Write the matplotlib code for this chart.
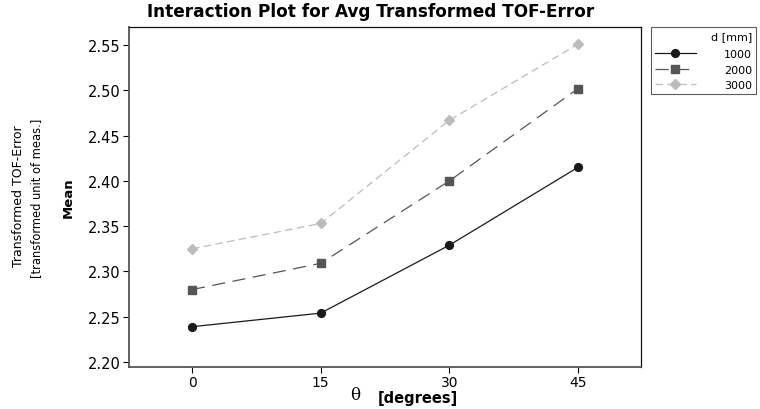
import matplotlib.pyplot as plt

plt.rcParams['font.family'] = ['DejaVu Sans']

theta = [0, 15, 30, 45]
d_labels = ["1000", "2000", "3000"]
mean_1000 = [2.239, 2.254, 2.329, 2.415]
mean_2000 = [2.280, 2.309, 2.400, 2.502]
mean_3000 = [2.325, 2.353, 2.467, 2.551]
yticks = [2.20, 2.25, 2.30, 2.35, 2.40, 2.45, 2.50, 2.55]

fig = plt.figure(figsize=(7.6, 4.1), dpi=100)
ax = fig.add_axes([129 / 760, 1 - 368 / 410, 512 / 760, 340 / 410])

ax.plot(theta, mean_1000, color="#1a1a1a", lw=0.9, ls="-", marker="o", ms=5.6,
        label=d_labels[0])
ax.plot(theta, mean_2000, color="#555555", lw=0.9, ls=(0, (10.5, 6)), marker="s", ms=5.6,
        label=d_labels[1])
ax.plot(theta, mean_3000, color="#bcbcbc", lw=0.9, ls=(0, (6, 3.5)), marker="D", ms=5.2,
        label=d_labels[2])

ax.set_xlim(-7.35, 52.35)
ax.set_ylim(2.1945, 2.570)
ax.set_xticks(theta)
ax.set_yticks(yticks)
ax.set_yticklabels([f"{v:.2f}" for v in yticks])
ax.tick_params(labelsize=10.5, length=4, width=0.8, pad=2)
ax.tick_params(axis="x", labelsize=10, pad=1.5)

for s in ["left", "bottom"]:
    ax.spines[s].set_color("#555555")
    ax.spines[s].set_linewidth(1.3)
for s in ["top", "right"]:
    ax.spines[s].set_color("#111111")
    ax.spines[s].set_linewidth(0.9)

fig.text(371 / 760, 1 - 12 / 410, "Interaction Plot for Avg Transformed TOF-Error",
         fontsize=12.2, fontweight="bold", ha="center", va="center")

fig.text(68 / 760, 1 - 198 / 410, "Mean", rotation=90, fontsize=9.5,
         fontweight="bold", ha="center", va="center")
fig.text(19 / 760, 1 - 196 / 410, "Transformed TOF-Error", rotation=90,
         fontsize=9, ha="center", va="center")
fig.text(37 / 760, 1 - 198 / 410, "[transformed unit of meas.]", rotation=90,
         fontsize=8.3, ha="center", va="center")
fig.text(355 / 760, 1 - 396 / 410, "θ", fontsize=12, family="DejaVu Serif",
         ha="center", va="center")
fig.text(378 / 760, 1 - 399 / 410, "[degrees]", fontsize=10.5,
         fontweight="bold", ha="left", va="center")

leg = fig.legend(loc="upper left", bbox_to_anchor=(651 / 760, 1 - 28 / 410),
                 title="d [mm]", alignment="right", fontsize=8, title_fontsize=8,
                 frameon=True, fancybox=False, edgecolor="#333333",
                 handlelength=3.7, handletextpad=2.5, borderpad=0.35,
                 labelspacing=0.5, borderaxespad=0)
leg.get_frame().set_linewidth(0.8)
leg._legend_box.sep = 6

fig.savefig("out.png", dpi=100)
